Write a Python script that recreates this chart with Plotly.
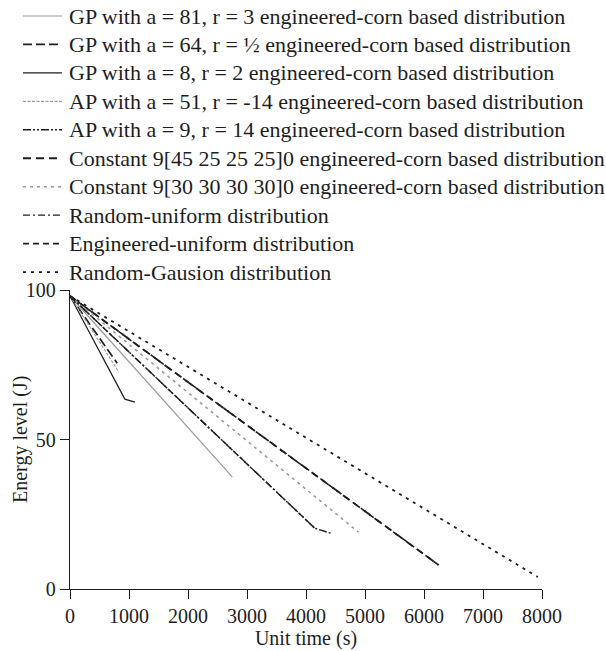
import plotly.graph_objects as go

# Energy level (J) over unit time (s) for each deployment distribution
gp81_t = [0, 2750]
gp81_e = [98, 37.5]
gp64_t = [0, 800]
gp64_e = [98, 75.5]
gp8_t = [0, 930, 1100]
gp8_e = [98, 63.5, 62.5]
ap51_t = [0, 830]
ap51_e = [98, 72.5]
ap9_t = [0, 4150, 4430]
ap9_e = [98, 20.3, 18.6]
c45_t = [0, 6250]
c45_e = [98, 8]
c30_t = [0, 4890]
c30_e = [98, 19]
runi_t = [0, 4150]
runi_e = [98, 20.3]
euni_t = [0, 6250]
euni_e = [98, 8]
rgau_t = [0, 7930]
rgau_e = [98, 4]

x_ticks = [0, 1000, 2000, 3000, 4000, 5000, 6000, 7000, 8000]
y_ticks = [0, 50, 100]

BLACK = "#1e1e1e"
GRAY = "#9a9a9a"
FONT = "Liberation Serif, Times New Roman, serif"

series = [
    ("GP with a = 81, r = 3 engineered-corn based distribution", gp81_t, gp81_e, GRAY, "solid", 1.2),
    ("GP with a = 64, r = ½ engineered-corn based distribution", gp64_t, gp64_e, BLACK, "9px,4px", 1.7),
    ("GP with a = 8, r = 2 engineered-corn based distribution", gp8_t, gp8_e, BLACK, "solid", 1.2),
    ("AP with a = 51, r = -14 engineered-corn based distribution", ap51_t, ap51_e, GRAY, "3px,1.5px", 1.1),
    ("AP with a = 9, r = 14 engineered-corn based distribution", ap9_t, ap9_e, BLACK, "8px,2px,2px,2px,2px,2px", 1.4),
    ("Constant 9[45 25 25 25]0 engineered-corn based distribution", c45_t, c45_e, BLACK, "8px,5px", 1.8),
    ("Constant 9[30 30 30 30]0 engineered-corn based distribution", c30_t, c30_e, GRAY, "3px,4px", 1.6),
    ("Random-uniform distribution", runi_t, runi_e, BLACK, "7px,3px,2px,3px", 1.4),
    ("Engineered-uniform distribution", euni_t, euni_e, BLACK, "6px,4px", 1.6),
    ("Random-Gausion distribution", rgau_t, rgau_e, BLACK, "3px,5px", 1.8),
]

W, H = 606, 651
ML, MR, MT, MB = 70, 64, 290, 62
PW, PH = W - ML - MR, H - MT - MB


def px_to_paper(xp, yp):
    return (xp - ML) / PW, (H - MB - yp) / PH


fig = go.Figure()
shapes, annotations = [], []
for i, (name, t, e, color, dash, width) in enumerate(series):
    fig.add_trace(go.Scatter(
        x=t, y=e, mode="lines", name=name, showlegend=False,
        line=dict(color=color, dash=dash, width=width),
    ))
    # key row above the plot: line sample then label
    row_y = 16 + i * 28.45
    x0, y0 = px_to_paper(23, row_y)
    x1, _ = px_to_paper(62, row_y)
    xt, _ = px_to_paper(67, row_y)
    shapes.append(dict(type="line", xref="paper", yref="paper",
                       x0=x0, x1=x1, y0=y0, y1=y0,
                       line=dict(color=color, dash=dash, width=width)))
    annotations.append(dict(xref="paper", yref="paper", x=xt, y=y0,
                            xanchor="left", yanchor="middle", showarrow=False,
                            text=name, font=dict(family=FONT, size=22, color="#1e1e1e")))

# vertical axis title
ytx, yty = px_to_paper(20, 440)
annotations.append(dict(xref="paper", yref="paper", x=ytx, y=yty,
                        xanchor="center", yanchor="middle", showarrow=False,
                        textangle=-90, text="Energy level (J)",
                        font=dict(family=FONT, size=20, color="#1e1e1e")))

fig.update_layout(
    width=W, height=H,
    margin=dict(l=ML, r=MR, t=MT, b=MB, autoexpand=False),
    paper_bgcolor="white", plot_bgcolor="white",
    font=dict(family=FONT, size=20, color="#1e1e1e"),
    showlegend=False,
    shapes=shapes,
    annotations=annotations,
    xaxis=dict(
        range=[0, 8000], tickvals=x_ticks, ticktext=[str(v) for v in x_ticks],
        showgrid=False, zeroline=False, showline=True, linecolor="#1e1e1e", linewidth=1.3,
        ticks="outside", ticklen=9, tickwidth=1.3, tickcolor="#1e1e1e",
        title=dict(text="Unit time (s)", standoff=3, font=dict(size=20)),
        tickfont=dict(size=20),
    ),
    yaxis=dict(
        range=[0, 100], tickvals=y_ticks, ticktext=[str(v) for v in y_ticks],
        showgrid=False, zeroline=False, showline=True, linecolor="#1e1e1e", linewidth=1.3,
        ticks="outside", ticklen=9, tickwidth=1.3, tickcolor="#1e1e1e",
        tickfont=dict(size=20),
    ),
)

fig.write_html("out.html")
